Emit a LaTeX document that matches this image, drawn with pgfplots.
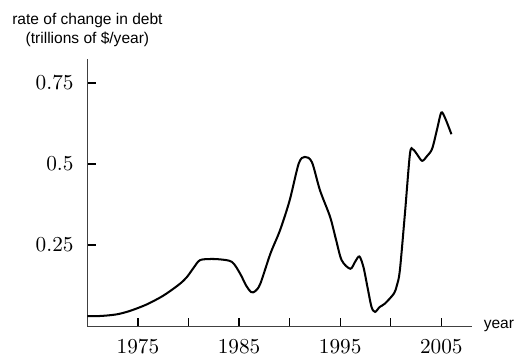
\documentclass[border=0pt]{standalone}
\usepackage{pgfplots}
\pgfplotsset{compat=1.18}
\usepackage{fontspec}
\newfontfamily\sansfont{Liberation Sans}
\begin{document}
\begin{tikzpicture}
\begin{axis}[
  scale only axis,
  width=180.6pt, height=125.4pt,
  xmin=1970, xmax=2008, ymin=0, ymax=0.823,
  axis x line=bottom, axis y line=left,
  axis line style={-, black!75, line width=0.6pt},
  tick align=inside,
  major tick length=3.8pt,
  tick style={black, line width=0.6pt},
  xtick={1975,1980,...,2005},
  xticklabels={$1975$,,$1985$,,$1995$,,$2005$},
  ytick={0.25,0.5,0.75},
  yticklabels={$0.25$,$0.5$,$0.75$},
  xticklabel style={yshift=-3pt},
  yticklabel style={xshift=-3pt},
  tick label style={font=\fontsize{10}{12}\selectfont},
  clip=false,
]
\addplot[black, line width=0.95pt, smooth, tension=0.5] coordinates {
(1970,0.031) (1971,0.031) (1972,0.033) (1973,0.037) (1974,0.045)
(1975,0.056) (1976,0.069) (1977.5,0.094) (1979,0.127) (1979.8,0.150)
(1980.5,0.180) (1981.1,0.203) (1982.0,0.207)
(1983.1,0.206) (1984.3,0.198) (1985.1,0.162) (1985.7,0.125) (1986.2,0.105)
(1986.6,0.108) (1987.1,0.131) (1988.1,0.224) (1989.05,0.296) (1990.0,0.388)
(1990.9,0.502) (1991.5,0.522) (1992.2,0.506) (1993.0,0.419) (1994.0,0.337)
(1994.6,0.265) (1995.15,0.203) (1996.0,0.177) (1996.5,0.200) (1996.9,0.215)
(1997.3,0.182) (1997.7,0.12) (1998.1,0.059) (1998.45,0.044) (1998.9,0.059)
(1999.4,0.069) (2000.3,0.100) (2000.6,0.125) (2000.9,0.172) (2001.4,0.347)
(2001.9,0.532) (2002.2,0.545) (2002.6,0.530) (2003.1,0.510) (2003.6,0.525)
(2004.1,0.548) (2004.6,0.610) (2005.0,0.659) (2005.4,0.640) (2006.0,0.592)
};
\end{axis}
\node[anchor=base, inner sep=0pt, font=\sansfont\fontsize{7.3}{9}\selectfont] at (0pt,141.6pt) {rate of change in debt};
\node[anchor=base, inner sep=0pt, font=\sansfont\fontsize{7.3}{9}\selectfont] at (0pt,133.0pt) {(trillions of \$/year)};
\node[anchor=base west, inner sep=0pt, font=\sansfont\fontsize{7.3}{9}\selectfont] at (186.1pt,-1.0pt) {year};
\path (-41.1pt,-13.5pt) rectangle (200.5pt,153.3pt);
\end{tikzpicture}
\end{document}
